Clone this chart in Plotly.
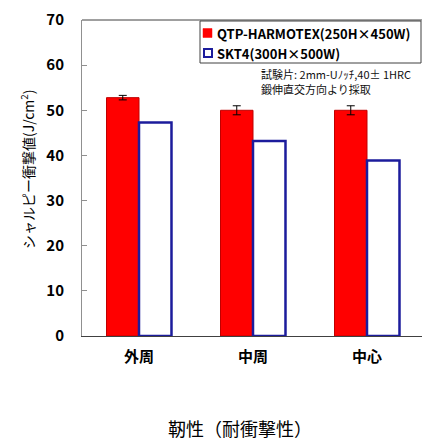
import plotly.graph_objects as go

categories = ["外周", "中周", "中心"]
qtp_values = [52.8, 50.0, 50.0]
qtp_errors = [0.5, 1.0, 1.0]
skt_values = [47.3, 43.2, 38.9]
y_ticks = [0, 10, 20, 30, 40, 50, 60, 70]
series_names = ["QTP-HARMOTEX(250H×450W)", "SKT4(300H×500W)"]
note_lines = ["試験片: 2mm-Uﾉｯﾁ,40± 1HRC", "鍛伸直交方向より採取"]

FONT = "Noto Sans CJK JP"
RED = "#FF0000"
BLUE = "#1C1C9C"

fig = go.Figure()
fig.add_trace(go.Bar(
    x=categories, y=qtp_values, name=series_names[0],
    marker=dict(color=RED, line=dict(color="#C00000", width=1)),
    error_y=dict(type="data", array=qtp_errors, color="black", thickness=1, width=4),
    showlegend=False,
))
fig.add_trace(go.Bar(
    x=categories, y=skt_values, name=series_names[1],
    marker=dict(color="white", line=dict(color=BLUE, width=2.5)),
    showlegend=False,
))

# plot area in window pixels: x 82..424, y 20..336 (body margin 8px)
def px(X):
    return (X - 82) / 342

def py(Y):
    return (336 - Y) / 316

fig.update_layout(
    width=422, height=433,
    margin=dict(l=74, r=6, t=12, b=105, autoexpand=False),
    paper_bgcolor="white", plot_bgcolor="white",
    barmode="group", bargap=0.43, bargroupgap=0,
    font=dict(family=FONT, color="black"),
    showlegend=False,
    xaxis=dict(
        automargin=False,
        showline=True, linecolor="#404040", linewidth=1,
        tickfont=dict(family=FONT, size=15, weight="bold"),
        ticks="", ticklabelstandoff=7,
    ),
    yaxis=dict(
        automargin=False,
        range=[0, 70], tickvals=y_ticks,
        showline=True, linecolor="#909090", linewidth=1,
        ticks="inside", ticklen=5, tickcolor="#909090",
        showgrid=False, zeroline=False,
        tickfont=dict(family=FONT, size=15, weight="bold"),
        ticklabelstandoff=14,
    ),
)

# top frame line
fig.add_shape(type="line", xref="paper", yref="paper", x0=0, x1=1, y0=1, y1=1,
              line=dict(color="#404040", width=1))

# legend box
fig.add_shape(type="rect", xref="paper", yref="paper",
              x0=px(200), x1=px(421), y0=py(63), y1=py(21),
              line=dict(color="#404040", width=1), fillcolor="white")
fig.add_shape(type="rect", xref="paper", yref="paper",
              x0=px(203), x1=px(212), y0=py(37.5), y1=py(28.5),
              line=dict(color=RED, width=0.5), fillcolor=RED)
fig.add_shape(type="rect", xref="paper", yref="paper",
              x0=px(204), x1=px(212), y0=py(57), y1=py(49),
              line=dict(color=BLUE, width=2), fillcolor="white")
for name, yc in zip(series_names, [33, 53]):
    fig.add_annotation(
        xref="paper", yref="paper", x=px(215), y=py(yc),
        xanchor="left", yanchor="middle", showarrow=False,
        text=name, font=dict(family=FONT, size=13, color="black", weight="bold"),
    )

for line, yc in zip(note_lines, [73.5, 89.5]):
    fig.add_annotation(
        xref="paper", yref="paper", x=px(259), y=py(yc),
        xanchor="left", yanchor="middle", showarrow=False,
        text=line, font=dict(family=FONT, size=11, color="#101010"),
    )
fig.add_annotation(
    xref="paper", yref="paper", x=px(27), y=py(169), xanchor="center", yanchor="middle",
    showarrow=False, textangle=-90,
    text="シャルピー衝撃値(J/cm<sup>2</sup>)",
    font=dict(family=FONT, size=14, color="black"),
)
fig.add_annotation(
    xref="paper", yref="paper", x=px(240), y=py(428),
    xanchor="center", yanchor="middle", showarrow=False,
    text="靭性（耐衝撃性）",
    font=dict(family=FONT, size=18, color="black"),
)

fig.write_html("out.html")
